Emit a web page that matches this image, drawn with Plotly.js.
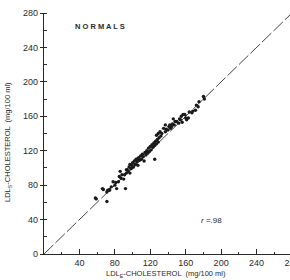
<!DOCTYPE html>
<html>
<head>
<meta charset="utf-8">
<script src="https://cdn.plot.ly/plotly-3.0.1.min.js"></script>
<style>
html,body{margin:0;padding:0;background:#fff;overflow:hidden;width:290px;height:280px;}
#chart{width:300px;height:280px;}
</style>
</head>
<body>
<div id="chart"></div>
<script>
// LDL-E cholesterol (x) vs LDL-S cholesterol (y), normals, mg/100 ml
const ldlE = [58,59,66,67,71,71,72,74,74,76,78,80,81,82,84,85,86,87,88,90,91,92,93,93,94,95,96,97,97,98,99,
  99,100,101,102,103,103,104,105,105,106,106,107,108,109,110,111,112,113,114,115,116,117,118,119,120,121,122,123,124,125,125,126,127,127,128,129,129,130,131,
  132,133,135,137,137,138,140,141,142,143,144,145,146,147,148,150,152,153,154,155,156,157,159,160,161,163,164,167,168,171,172,174,175,180,181];
const ldlS = [65,64,76,75,72,61,74,75,74,78,84,80,83,76,84,90,96,88,92,87,92,76,94,98,98,96,101,94,104,99,100,
  103,106,101,108,104,104,110,107,109,103,111,112,109,114,110,116,113,108,118,115,120,117,123,119,125,121,127,124,129,110,126,131,128,138,133,130,140,135,142,
  137,140,146,150,142,145,144,148,150,146,148,151,157,150,154,154,152,157,156,160,153,162,162,158,156,158,165,164,166,167,173,171,177,183,180];
const lineX = [0, 280];
const lineY = [0, 280];
const xTicks = [40, 80, 120, 160, 200, 240, 280];
const yTicks = [0, 40, 80, 120, 160, 200, 240, 280];

const fontFam = '"Liberation Sans", Arial, sans-serif';
const ink = '#2a2a2a';

const traces = [
  {x: lineX, y: lineY, mode: 'lines', type: 'scatter',
   line: {color: '#444', width: 1, dash: '13px,3px'}, hoverinfo: 'skip'},
  {x: ldlE, y: ldlS, mode: 'markers', type: 'scatter',
   marker: {color: '#1a1a1a', size: 3.4}, cliponaxis: false}
];

const layout = {
  width: 300, height: 280,
  margin: {l: 44, r: 8, t: 13, b: 26},
  paper_bgcolor: '#fff', plot_bgcolor: '#fff',
  showlegend: false,
  font: {family: fontFam, color: ink, size: 9},
  xaxis: {
    range: [0, 280], showgrid: false, zeroline: false,
    showline: true, linecolor: ink, linewidth: 1.2,
    tickvals: xTicks, ticktext: xTicks.map(String),
    ticks: 'inside', ticklen: 5, tickwidth: 1, tickcolor: ink,
    minor: {dtick: 20, ticks: 'inside', ticklen: 2.5, tickwidth: 1, tickcolor: ink, showgrid: false},
    tickfont: {size: 9, color: ink, family: fontFam},
    fixedrange: true
  },
  yaxis: {
    range: [0, 280], showgrid: false, zeroline: false,
    showline: true, linecolor: ink, linewidth: 1.2,
    tickvals: yTicks, ticktext: yTicks.map(String),
    ticks: 'outside', ticklen: 3, tickwidth: 1, tickcolor: ink,
    minor: {dtick: 20, ticks: 'inside', ticklen: 2.5, tickwidth: 1, tickcolor: ink, showgrid: false},
    tickfont: {size: 9, color: ink, family: fontFam},
    fixedrange: true
  },
  annotations: [
    {text: '<b>N O R M A L S</b>', xref: 'paper', yref: 'paper', x: 0.226, y: 0.942,
     xanchor: 'center', yanchor: 'middle',
     showarrow: false, font: {size: 7.5, color: ink, family: fontFam}},
    {text: '<i>r</i> =.98', xref: 'paper', yref: 'paper', x: 0.677, y: 0.137,
     xanchor: 'center', yanchor: 'middle',
     showarrow: false, font: {size: 8, color: ink, family: fontFam}},
    {text: 'LDL<sub>E</sub>-CHOLESTEROL  (mg/100 ml)', xref: 'paper', yref: 'paper',
     x: 0.492, y: -0.112, xanchor: 'center', yanchor: 'bottom', showarrow: false,
     font: {size: 7.5, color: ink, family: fontFam}},
    {text: 'LDL<sub>S</sub>-CHOLESTEROL  (mg/100 ml)', xref: 'paper', yref: 'paper',
     x: -0.145, y: 0.465, xanchor: 'center', yanchor: 'middle', textangle: -90,
     showarrow: false, font: {size: 7.5, color: ink, family: fontFam}}
  ]
};

Plotly.newPlot('chart', traces, layout, {staticPlot: true, displayModeBar: false});
</script>
</body>
</html>
